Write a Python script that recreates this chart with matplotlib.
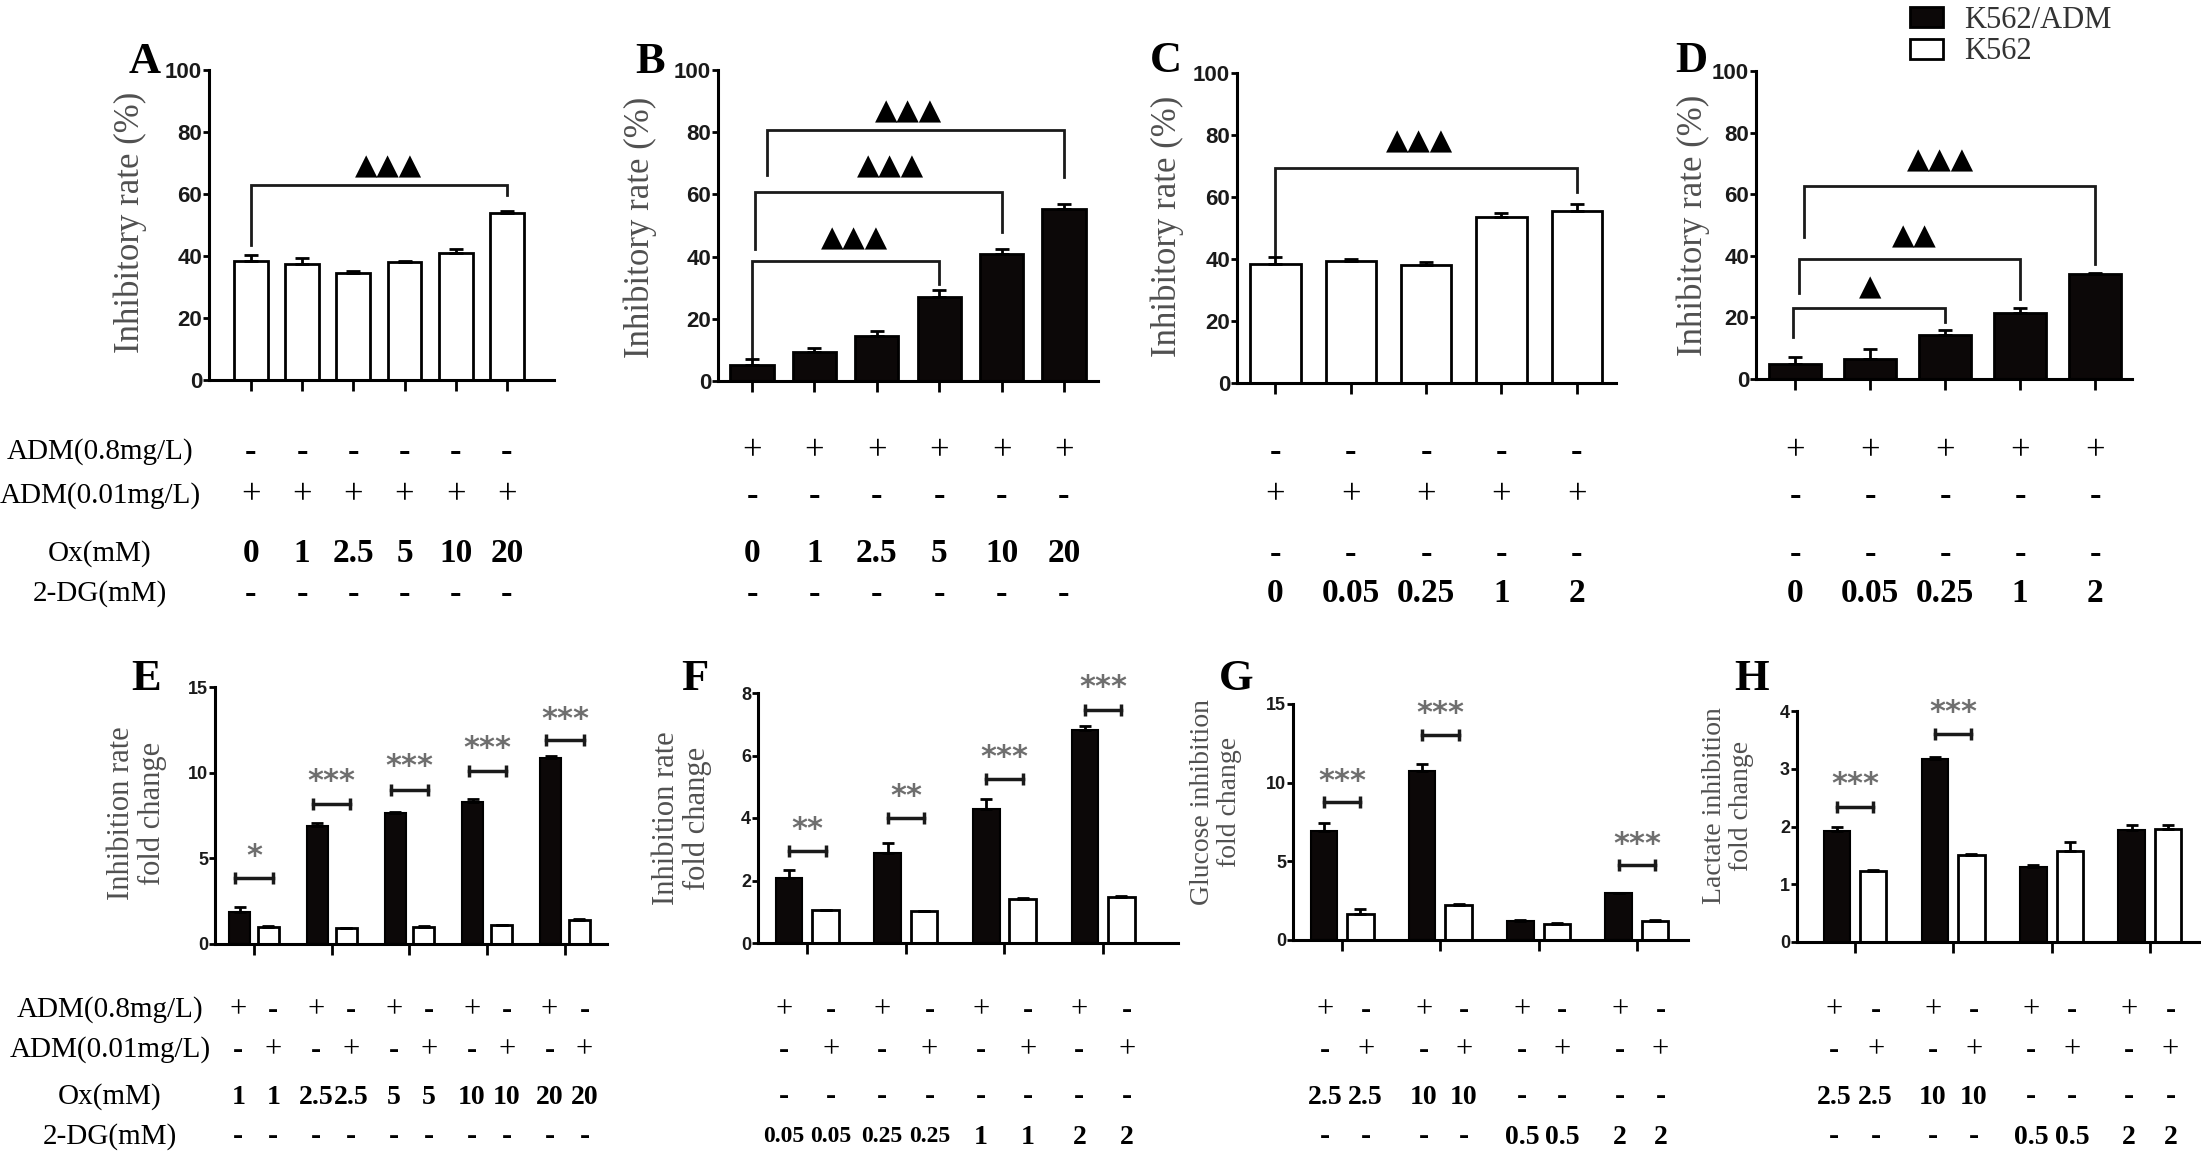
import matplotlib
matplotlib.use("Agg")
import matplotlib.pyplot as plt
import matplotlib.transforms as mtransforms
from matplotlib.patches import Patch

W, H = 2201, 1156
SERIF = ['Liberation Serif', 'DejaVu Serif']
NARROW = ['Liberation Sans Narrow', 'Liberation Sans', 'DejaVu Sans']
SYMB = ['DejaVu Sans']
GRAY = '#505050'
STAR_GRAY = '#6e6e6e'
BLACK = '#0c0808'

# ---------------- data ----------------
# top row: inhibitory rate (%)
a_rate = [38.5, 37.5, 34.5, 38.0, 41.0, 54.0]
a_err = [1.8, 2.0, 0.8, 0.4, 1.2, 0.6]
b_rate = [5.0, 9.3, 14.4, 27.0, 40.7, 55.3]
b_err = [2.2, 1.4, 1.6, 2.4, 1.6, 1.6]
c_rate = [38.5, 39.3, 38.0, 53.7, 55.6]
c_err = [2.2, 0.8, 0.9, 1.0, 2.1]
d_rate = [5.0, 6.5, 14.3, 21.4, 34.0]
d_err = [2.2, 3.2, 1.6, 1.6, 0.5]

# bottom row: fold changes, K562/ADM (black) vs K562 (white)
e_adm = [1.88, 6.90, 7.64, 8.26, 10.88]
e_adm_err = [0.30, 0.17, 0.05, 0.23, 0.10]
e_k562 = [1.01, 0.91, 1.01, 1.09, 1.40]
e_k562_err = [0.03, 0.03, 0.03, 0.04, 0.04]
f_adm = [2.08, 2.88, 4.30, 6.83]
f_adm_err = [0.27, 0.32, 0.32, 0.12]
f_k562 = [1.045, 1.01, 1.42, 1.47]
f_k562_err = [0.02, 0.02, 0.02, 0.02]
g_adm = [6.90, 10.76, 1.19, 2.96]
g_adm_err = [0.56, 0.45, 0.05, 0.05]
g_k562 = [1.68, 2.25, 1.01, 1.19]
g_k562_err = [0.27, 0.05, 0.04, 0.05]
h_adm = [1.92, 3.17, 1.30, 1.94]
h_adm_err = [0.07, 0.03, 0.03, 0.08]
h_k562 = [1.225, 1.50, 1.57, 1.96]
h_k562_err = [0.02, 0.03, 0.16, 0.07]

# significance brackets, top: (x left, x right, y left end, y top, y right end, mark x, mark y, mark)
a_sig = [(0, 5, 43.6, 63.0, 59.6, 2.68, 69.0, '▲▲▲')]
b_sig = [(0, 3, 7.2, 38.6, 31.3, 1.65, 45.8, '▲▲▲'),
         (0.05, 4, 42.6, 60.8, 48.0, 2.22, 68.9, '▲▲▲'),
         (0.24, 5, 66.2, 80.7, 65.7, 2.5, 86.6, '▲▲▲')]
c_sig = [(0, 4, 41.4, 69.5, 61.7, 1.91, 78.0, '▲▲▲')]
d_sig = [(-0.03, 2, 13.7, 23.0, 18.6, 1.0, 29.8, '▲'),
         (0.05, 3, 28.0, 39.1, 26.0, 1.59, 46.2, '▲▲'),
         (0.12, 4, 46.0, 62.7, 37.3, 1.94, 70.8, '▲▲▲')]
# bottom: (group, bracket y, stars, stars y)
e_sig = [(0, 3.83, '*', 5.09), (1, 8.2, '***', 9.46), (2, 9.01, '***', 10.34),
         (3, 10.1, '***', 11.4), (4, 11.89, '***', 13.1)]
f_sig = [(0, 2.95, '**', 3.63), (1, 4.0, '**', 4.69), (2, 5.25, '***', 5.95), (3, 7.47, '***', 8.16)]
g_sig = [(0, 8.76, '***', 10.1), (1, 13.0, '***', 14.37), (3, 4.76, '***', 6.1)]
h_sig = [(0, 2.34, '***', 2.73), (1, 3.6, '***', 3.98)]

# treatment tables under the panels
row_names = ['ADM(0.8mg/L)', 'ADM(0.01mg/L)', 'Ox(mM)', '2-DG(mM)']
a_rows = [['-', '-', '-', '-', '-', '-'], ['+', '+', '+', '+', '+', '+'],
          ['0', '1', '2.5', '5', '10', '20'], ['-', '-', '-', '-', '-', '-']]
b_rows = [['+', '+', '+', '+', '+', '+'], ['-', '-', '-', '-', '-', '-'],
          ['0', '1', '2.5', '5', '10', '20'], ['-', '-', '-', '-', '-', '-']]
c_rows = [['-', '-', '-', '-', '-'], ['+', '+', '+', '+', '+'],
          ['-', '-', '-', '-', '-'], ['0', '0.05', '0.25', '1', '2']]
d_rows = [['+', '+', '+', '+', '+'], ['-', '-', '-', '-', '-'],
          ['-', '-', '-', '-', '-'], ['0', '0.05', '0.25', '1', '2']]
e_rows = [['+', '-', '+', '-', '+', '-', '+', '-', '+', '-'],
          ['-', '+', '-', '+', '-', '+', '-', '+', '-', '+'],
          ['1', '1', '2.5', '2.5', '5', '5', '10', '10', '20', '20'],
          ['-', '-', '-', '-', '-', '-', '-', '-', '-', '-']]
f_rows = [['+', '-', '+', '-', '+', '-', '+', '-'],
          ['-', '+', '-', '+', '-', '+', '-', '+'],
          ['-', '-', '-', '-', '-', '-', '-', '-'],
          ['0.05', '0.05', '0.25', '0.25', '1', '1', '2', '2']]
g_rows = [['+', '-', '+', '-', '+', '-', '+', '-'],
          ['-', '+', '-', '+', '-', '+', '-', '+'],
          ['2.5', '2.5', '10', '10', '-', '-', '-', '-'],
          ['-', '-', '-', '-', '0.5', '0.5', '2', '2']]
h_rows = g_rows

fig = plt.figure(figsize=(W / 100, H / 100), dpi=100)


def fy(py):
    return 1 - py / H


def make_axes(left, right, bottom, top):
    return fig.add_axes([left / W, fy(bottom), (right - left) / W, (bottom - top) / H])


def style_axes(ax, xlim, ylim, yticks, xticks, ysize):
    ax.set_xlim(xlim)
    ax.set_ylim(ylim)
    ax.patch.set_alpha(0)
    for s in ['top', 'right']:
        ax.spines[s].set_visible(False)
    for s in ['left', 'bottom']:
        ax.spines[s].set_linewidth(2.2)
    ax.set_yticks(yticks)
    ax.set_xticks(xticks)
    ax.set_xticklabels([])
    ax.tick_params(axis='y', length=4, width=2, pad=1, labelsize=ysize, labelcolor='#1a1a1a')
    ax.tick_params(axis='x', length=8, width=2)
    for lab in ax.get_yticklabels():
        lab.set_fontfamily(NARROW)
        lab.set_fontweight('bold')


def draw_rows(ax, xs, rows, ys, numsize, signsize, decsize):
    trans = mtransforms.blended_transform_factory(ax.transData, fig.transFigure)
    for entries, py in zip(rows, ys):
        for x, s in zip(xs, entries):
            if s == '+':
                ax.text(x, fy(py), s, transform=trans, ha='center', va='center',
                        fontsize=signsize, family=SERIF)
            elif s == '-':
                ax.text(x, fy(py), s, transform=trans, ha='center', va='center',
                        fontsize=signsize, family=SERIF, fontweight='bold')
            else:
                size = decsize if len(s) >= 4 else numsize
                ax.text(x, fy(py), s, transform=trans, ha='center', va='center',
                        fontsize=size, family=SERIF, fontweight='bold')


def letter(px, py, s):
    fig.text(px / W, fy(py), s, ha='center', va='center', fontsize=32,
             family=SERIF, fontweight='bold')


def ylabel(px, py, s, size):
    fig.text(px / W, fy(py), s, ha='center', va='center', rotation=90, fontsize=size,
             family=SERIF, color=GRAY, multialignment='center', linespacing=1.1)


# ---------------- top panels ----------------
top_rows_y = [452, 496, 554, 594]
top_panels = [
    ('A', (209, 554, 380, 70), a_rate, a_err, 'white', 0.66, (-0.82, 5.92), a_sig, a_rows, (145, 62), (130, 222)),
    ('B', (718, 1098, 381, 70), b_rate, b_err, BLACK, 0.69, (-0.545, 5.545), b_sig, b_rows, (650, 62), (640, 227)),
    ('C', (1237, 1616, 383, 73), c_rate, c_err, 'white', 0.67, (-0.51, 4.52), c_sig, c_rows, (1166, 61), (1167, 226)),
    ('D', (1756, 2132, 379, 71), d_rate, d_err, BLACK, 0.70, (-0.52, 4.49), d_sig, d_rows, (1691, 61), (1693, 225)),
]

for name, rect, vals, errs, color, width, xlim, sig, rows, lpos, ypos in top_panels:
    ax = make_axes(*rect)
    x = list(range(len(vals)))
    ax.bar(x, vals, width=width, color=color, edgecolor='black', linewidth=2, zorder=2)
    ax.errorbar(x, vals, yerr=[[0] * len(vals), errs], fmt='none', ecolor='black',
                elinewidth=2, capsize=5, capthick=2, zorder=3)
    style_axes(ax, xlim, (0, 100), range(0, 101, 20), x, 16)
    for xl, xr, yl, yt, yr, mx, my, mark in sig:
        ax.plot([xl, xl, xr, xr], [yl, yt, yt, yr], color='#1a1a1a', lw=2, clip_on=False,
                solid_joinstyle='miter')
        ax.text(mx, my, mark, ha='center', va='center', fontsize=21, family=SYMB, color='black')
    draw_rows(ax, x, rows, top_rows_y, 24, 25, 24)
    letter(lpos[0], lpos[1], name)
    ylabel(ypos[0], ypos[1], 'Inhibitory rate (%)', 25)

for name, py in zip(row_names, top_rows_y):
    fig.text(100 / W, fy(py), name, ha='center', va='center', fontsize=21, family=SERIF)

# ---------------- bottom panels ----------------
bot_rows_y = [1010, 1050, 1097, 1137]
bot_panels = [
    ('E', (215, 607, 944, 687), e_adm, e_adm_err, e_k562, e_k562_err, (-0.50, 4.54), (0, 15), range(0, 16, 5),
     e_sig, 0.24, e_rows, (-0.2, 0.25), 20, (146, 679), (137, 813), 'Inhibition rate\nfold change', 22),
    ('F', (758, 1178, 943, 693), f_adm, f_adm_err, f_k562, f_k562_err, (-0.50, 3.76), (0, 8), range(0, 9, 2),
     f_sig, 0.185, f_rows, (-0.24, 0.24), 20, (695, 679), (682, 818), 'Inhibition rate\nfold change', 22),
    ('G', (1293, 1688, 940, 704), g_adm, g_adm_err, g_k562, g_k562_err, (-0.50, 3.52), (0, 15), range(0, 16, 5),
     g_sig, 0.185, g_rows, (-0.17, 0.24), 20, (1236, 679), (1216, 802), 'Glucose inhibition\nfold change', 20),
    ('H', (1797, 2201, 942, 711), h_adm, h_adm_err, h_k562, h_k562_err, (-0.59, 3.52), (0, 4), range(0, 5),
     h_sig, 0.185, h_rows, (-0.21, 0.21), 20, (1752, 679), (1728, 806), 'Lactate inhibition\nfold change', 20),
]

OFF, BW = 0.185, 0.27
for (name, rect, adm, adm_err, k562, k562_err, xlim, ylim, yticks, sig, hw, rows, roff, numsize,
     lpos, ypos, ytxt, ysz) in bot_panels:
    ax = make_axes(*rect)
    g = list(range(len(adm)))
    xa = [i - OFF for i in g]
    xk = [i + OFF for i in g]
    ax.bar(xa, adm, width=BW, color=BLACK, edgecolor='black', linewidth=1.5, zorder=2)
    ax.bar(xk, k562, width=BW, color='white', edgecolor='black', linewidth=2, zorder=2)
    ax.errorbar(xa, adm, yerr=[[0] * len(adm), adm_err], fmt='none', ecolor='black',
                elinewidth=2, capsize=4.5, capthick=2, zorder=3)
    ax.errorbar(xk, k562, yerr=[[0] * len(k562), k562_err], fmt='none', ecolor='black',
                elinewidth=2, capsize=4.5, capthick=2, zorder=3)
    style_axes(ax, xlim, ylim, yticks, g, 13)
    for gi, y, stars, sy in sig:
        ax.plot([gi - hw, gi + hw], [y, y], color='#1a1a1a', lw=2.5, marker='|', markersize=9,
                markeredgewidth=2.5, clip_on=False)
        ax.text(gi, sy, stars, ha='center', va='center', fontsize=22, family=SYMB,
                fontweight='bold', color=STAR_GRAY)
    pos = []
    for i in g:
        pos += [i + roff[0], i + roff[1]]
    draw_rows(ax, pos, rows, bot_rows_y, numsize, 22, 17)
    letter(lpos[0], lpos[1], name)
    ylabel(ypos[0], ypos[1], ytxt, ysz)

for name, py in zip(row_names, bot_rows_y):
    fig.text(110 / W, fy(py), name, ha='center', va='center', fontsize=21, family=SERIF)

# legend
fig.legend([Patch(facecolor=BLACK, edgecolor='black', linewidth=2),
            Patch(facecolor='white', edgecolor='black', linewidth=2)],
           ['K562/ADM', 'K562'], loc='upper left', bbox_to_anchor=(1910 / W, fy(6)),
           frameon=False, prop={'family': SERIF, 'size': 22}, labelcolor='#333333',
           handlelength=1.08, handleheight=0.62, handletextpad=0.7, labelspacing=0.08,
           borderpad=0, borderaxespad=0)

fig.savefig('out.png', dpi=100)
